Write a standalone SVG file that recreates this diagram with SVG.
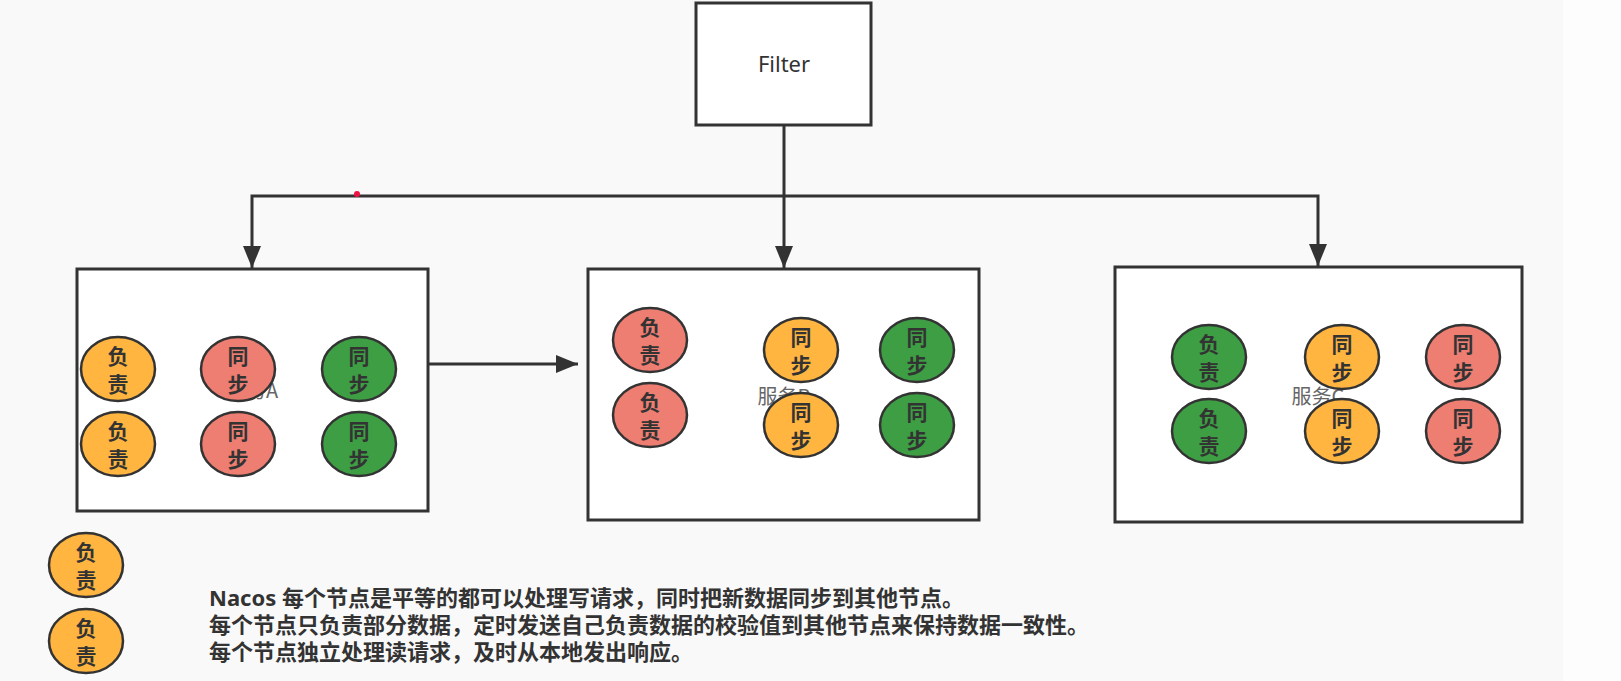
<svg xmlns="http://www.w3.org/2000/svg" width="1621" height="681" viewBox="0 0 1621 681">
<style>
.box{fill:#ffffff;stroke:#333333;stroke-width:3}
.conn{fill:none;stroke:#333333;stroke-width:3}
.o{fill:#FFB540;stroke:#333333;stroke-width:2.5}
.r{fill:#EE7D72;stroke:#333333;stroke-width:2.5}
.g{fill:#3D9E44;stroke:#333333;stroke-width:2.5}
.et{font-family:"Noto Sans CJK SC","Noto Sans",sans-serif;font-size:21px;font-weight:bold;fill:#333333;text-anchor:middle;dominant-baseline:central}
.lbl{font-family:"Noto Sans CJK SC","Noto Sans",sans-serif;font-size:20px;fill:#666666;text-anchor:middle}
.note{font-family:"Noto Sans","Noto Sans CJK SC",sans-serif;font-size:22px;font-weight:bold;fill:#333333}
</style>
<defs>
<marker id="arr" markerUnits="userSpaceOnUse" markerWidth="24" markerHeight="20" refX="22" refY="9" orient="auto">
<path d="M0,0 L22,9 L0,18 z" fill="#333333"/>
</marker>
</defs>
<rect x="0" y="0" width="1621" height="681" fill="#f9f9f9"/>
<rect x="1563" y="0" width="58" height="681" fill="#fdfdfd"/>

<g id="filter">
<rect class="box" x="696" y="3" width="175" height="122"/>
<text x="784" y="72" font-family="'Noto Sans','Open Sans',sans-serif" font-size="22" fill="#333333" text-anchor="middle">Filter</text>
</g>

<g id="connectors">
<path class="conn" d="M784,125 L784,268" marker-end="url(#arr)"/>
<path class="conn" d="M784,196 L252,196 L252,268" marker-end="url(#arr)"/>
<path class="conn" d="M784,196 L1318,196 L1318,266" marker-end="url(#arr)"/>
<path class="conn" d="M428,364 L578,364" marker-end="url(#arr)"/>
</g>

<g id="serviceA">
<rect class="box" x="77" y="269" width="351" height="242"/>
<text class="lbl" x="252" y="398">服务A</text>
<ellipse class="o" cx="118" cy="369" rx="37" ry="32"/><text class="et" x="118" y="355">负</text><text class="et" x="118" y="383">责</text>
<ellipse class="o" cx="118" cy="444" rx="37" ry="32"/><text class="et" x="118" y="430">负</text><text class="et" x="118" y="458">责</text>
<ellipse class="r" cx="238" cy="369" rx="37" ry="32"/><text class="et" x="238" y="355">同</text><text class="et" x="238" y="383">步</text>
<ellipse class="r" cx="238" cy="444" rx="37" ry="32"/><text class="et" x="238" y="430">同</text><text class="et" x="238" y="458">步</text>
<ellipse class="g" cx="359" cy="369" rx="37" ry="32"/><text class="et" x="359" y="355">同</text><text class="et" x="359" y="383">步</text>
<ellipse class="g" cx="359" cy="444" rx="37" ry="32"/><text class="et" x="359" y="430">同</text><text class="et" x="359" y="458">步</text>
</g>

<g id="serviceB">
<rect class="box" x="588" y="269" width="391" height="251"/>
<text class="lbl" x="784" y="404">服务B</text>
<ellipse class="r" cx="650" cy="340" rx="37" ry="32"/><text class="et" x="650" y="326">负</text><text class="et" x="650" y="354">责</text>
<ellipse class="r" cx="650" cy="415" rx="37" ry="32"/><text class="et" x="650" y="401">负</text><text class="et" x="650" y="429">责</text>
<ellipse class="o" cx="801" cy="350" rx="37" ry="32"/><text class="et" x="801" y="336">同</text><text class="et" x="801" y="364">步</text>
<ellipse class="o" cx="801" cy="425" rx="37" ry="32"/><text class="et" x="801" y="411">同</text><text class="et" x="801" y="439">步</text>
<ellipse class="g" cx="917" cy="350" rx="37" ry="32"/><text class="et" x="917" y="336">同</text><text class="et" x="917" y="364">步</text>
<ellipse class="g" cx="917" cy="425" rx="37" ry="32"/><text class="et" x="917" y="411">同</text><text class="et" x="917" y="439">步</text>
</g>

<g id="serviceC">
<rect class="box" x="1115" y="267" width="407" height="255"/>
<text class="lbl" x="1318" y="404">服务C</text>
<ellipse class="g" cx="1209" cy="357" rx="37" ry="32"/><text class="et" x="1209" y="343">负</text><text class="et" x="1209" y="371">责</text>
<ellipse class="g" cx="1209" cy="431" rx="37" ry="32"/><text class="et" x="1209" y="417">负</text><text class="et" x="1209" y="445">责</text>
<ellipse class="o" cx="1342" cy="357" rx="37" ry="32"/><text class="et" x="1342" y="343">同</text><text class="et" x="1342" y="371">步</text>
<ellipse class="o" cx="1342" cy="431" rx="37" ry="32"/><text class="et" x="1342" y="417">同</text><text class="et" x="1342" y="445">步</text>
<ellipse class="r" cx="1463" cy="357" rx="37" ry="32"/><text class="et" x="1463" y="343">同</text><text class="et" x="1463" y="371">步</text>
<ellipse class="r" cx="1463" cy="431" rx="37" ry="32"/><text class="et" x="1463" y="417">同</text><text class="et" x="1463" y="445">步</text>
</g>

<g id="legend">
<ellipse class="o" cx="86" cy="565" rx="37" ry="32"/><text class="et" x="86" y="551">负</text><text class="et" x="86" y="579">责</text>
<ellipse class="o" cx="86" cy="641" rx="37" ry="32"/><text class="et" x="86" y="627">负</text><text class="et" x="86" y="655">责</text>
</g>

<g id="notes">
<text class="note" x="209" y="606">Nacos 每个节点是平等的都可以处理写请求，同时把新数据同步到其他节点。</text>
<text class="note" x="209" y="633">每个节点只负责部分数据，定时发送自己负责数据的校验值到其他节点来保持数据一致性。</text>
<text class="note" x="209" y="660">每个节点独立处理读请求，及时从本地发出响应。</text>
</g>

<circle cx="357" cy="194" r="3" fill="#ee1144"/>
</svg>
